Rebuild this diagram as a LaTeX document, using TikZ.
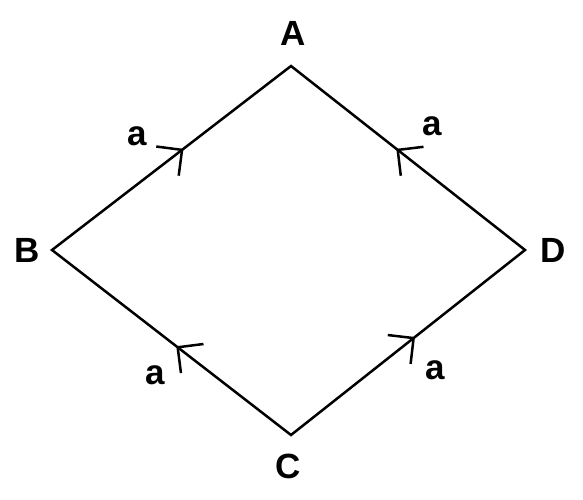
\documentclass[tikz,border=0pt]{standalone}
\usepackage{fontspec}
\setmainfont{Liberation Sans}
\usetikzlibrary{arrows.meta,decorations.markings}
\tikzset{
  edge/.style={line width=2.5pt, line join=miter},
  midarrow/.style={postaction={decorate,decoration={markings,
      mark=at position #1 with {\arrow[line width=2.5pt]{Straight Barb[angle=90:26pt, line cap=butt]}}}}},
  lbl/.style={font=\fontsize{35}{35}\selectfont\bfseries, inner sep=0pt},
  albl/.style={font=\fontsize{35}{35}\selectfont\bfseries, inner sep=0pt}
}
\begin{document}
\begin{tikzpicture}[x=1pt,y=-1pt]
\useasboundingbox (0,0) rectangle (583,500);
\coordinate (A) at (291,66);
\coordinate (B) at (52,250);
\coordinate (C) at (291,435);
\coordinate (D) at (525,250);
\draw[edge] (A) -- (D) -- (C) -- (B) -- cycle;
\path[midarrow=0.55] (B) -- (A);
\path[midarrow=0.55] (D) -- (A);
\path[midarrow=0.48] (C) -- (B);
\path[midarrow=0.53] (C) -- (D);
\node[lbl] (lA) at (293,33) {A};
\node[lbl] (lB) at (27,250) {B};
\node[lbl] (lC) at (288,466) {C};
\node[lbl] (lD) at (553,250) {D};
\node[albl] (a1) at (137,136) {a};
\node[albl] (a2) at (432,126) {a};
\node[albl] (a3) at (155,375) {a};
\node[albl] (a4) at (435,370) {a};
\end{tikzpicture}
\end{document}
